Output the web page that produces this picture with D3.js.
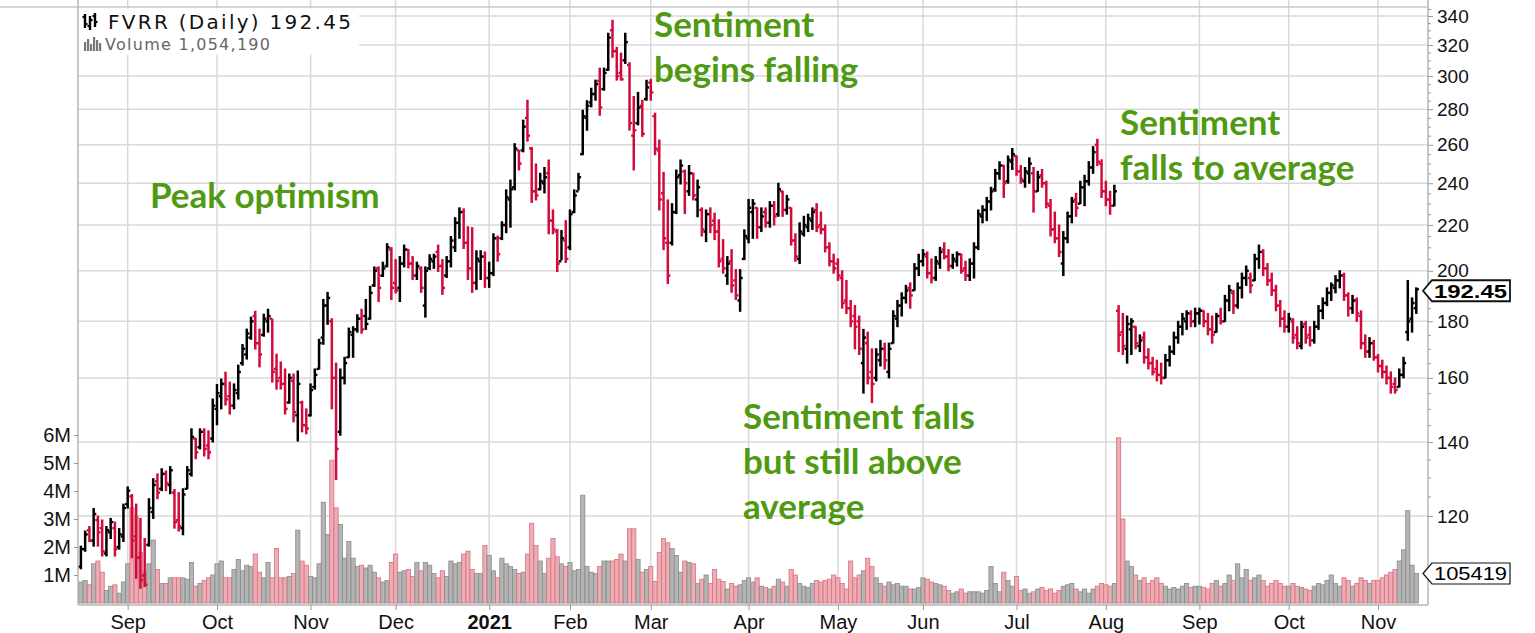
<!DOCTYPE html>
<html><head><meta charset="utf-8">
<script src="https://cdn.jsdelivr.net/npm/d3@7"></script>
<style>body{margin:0;background:#fff}svg{display:block}</style>
</head><body>
<svg id="c" width="1535" height="633"></svg>
<script>
// ---------- DATA (FVRR daily, Aug 17 2020 – Nov 12 2021) ----------
const symbol = "FVRR";
const lastClose = "192.45";
const lastVolume = "1,054,190";
const volumeBoxLabel = "105419";
const holidays = ["2020-09-07","2020-11-26","2020-12-25","2021-01-01","2021-01-18","2021-02-15","2021-04-02","2021-05-31","2021-07-05","2021-09-06"];
const opens = [
108,112,116.5,114,119,117,111,116,117,112.5,115,
123,125,115,110,106,113,121,129,127,131,128,126,119,117,127,131,141,138.5,143,139,141,
150,154,158,154,151,155,165,168,174,182,172,175,180,181,163,160,158,152,159,148,152,145,
148,157,163,174,186,180,160,143,160,167,175,177,181,182,181,194,201,198,202,209,
195,193,203,209,203,198,201,186,201,204,208,202,198,204,210,221,226,212,201,195,204,206,
197,199,214,214,220,232,238,257,257,275,258,236,237,240,245,222,217,204,213,
210,226,236,255,275,284,289,297,292,304,330,316,302,310,307,265,272,282,286,
296,276,257,235,212,212,226,244,246,236,245,232,227,217,225,222,217,205,198,204,196,188,205,
214,226,228,219,226,221,229,225,236,227,228,213,205,216,219,222,227,220,218,210,204,
203,197,188,185,182,180,165,172,162,160,166,170,162,172,181,186,189,193,192,201,
204,206,199,197,203,209,206,202,204,207,201,198,203,210,224,227,231,237,245,249,241,251,
254,246,241,245,245,236,244,240,229,218,214,203,214,224,232,230,238,241,248,260,250,
236,232,229,184,176,170,177,178,171,174,167,165,163,161,160,166,169,174,178,180,183,180,
183,184,180,177,176,182,180,188,191,186,193,197,197,196,205,208,201,196,192,186,181,
178,180,175,171,179,175,173,178,184,187,191,193,196,198,190,185,188,182,172,169,172,
167,164,162,160,158,157,161,176,181,185];
const highs = [
112.7,116.3,117.4,121.9,120,119,117.4,119.4,118.5,116.9,123,
127.5,125.5,123,119.4,114.5,124.4,129.7,131,132.4,131.8,133,126.8,126,127,133,143.9,141,143.9,143.9,143.3,153.1,
157.8,159.6,161.9,158.6,158,164.3,171.5,177.1,181.6,183.8,177.1,182.7,184.6,180.8,168.1,165.4,163,161.3,161.3,162.3,152.4,150,
158,163,173.4,188.4,191.2,181,165,163,167,177.5,178,182.5,184.6,188.4,193.6,201.6,201.6,203.6,211.6,209.9,
204.7,206,211,209,206,203.6,201.6,201.6,206.8,207,211,204.7,206,214.8,223.4,228,227.5,219.2,218.8,208.5,208.5,208,
203.6,216,215,221.5,236.7,241.6,260.6,257,273.7,285.3,258.6,249.8,245,248,251.9,227,218,217.5,222,
227,236.7,245,279.4,285,292.5,297.5,305,305,328,337,318.5,314.7,328,308.5,287.5,290,285.3,297.4,
298,277.7,262.6,245.5,231.8,230,246.7,251.9,246.7,249,245,241.6,228,227,228,225.5,222.4,213.4,206,209,200.5,200.5,217.8,
232,232,228,228,228,231,231,240,236,234,228,216,221,224,225,228,230,226,220,212,207,
205,200,196,188,186,182,177,176,170,170,173,172,172,184,188,191,194,195,203,207,
209,208,205,206,210,212,209,207,208,207,204,205,212,227,229,233,238,247,251,249,254,258,
254,249,248,253,248,246,247,241,232,226,220,217,226,233,235,241,244,251,259,263,252,
241,236,239,186,183,182,181,178,175,176,170,167,166,165,168,171,176,180,183,184,184,185,
185,184,183,182,183,185,190,194,192,195,199,202,199,207,211,209,203,199,194,188,184,
183,181,178,180,180,178,180,186,189,193,195,198,200,199,191,190,189,184,175,174,173,
168,166,164,162,160,163,167,196,189,193];
const lows = [
107.5,111.5,113.8,112.7,112.7,110.4,110.4,114.5,110.4,112,113.8,
122,110,105.4,103.2,103.6,112.7,119.4,124.4,126.5,126.5,125.7,117,116.3,115.4,127,130.4,135.2,138,136,135.2,140,
145.1,150,151.2,148.4,150,153.1,164.3,166.4,173.4,169.9,163.7,174.5,176,158.6,156.3,156.3,148.4,151.8,146,140.3,143,142.4,
147.8,156.3,163,171.6,178.9,150,129.5,142,158,167,167,176,175.6,177,180.8,193.6,187.6,197.6,201.6,188.4,
191,187.6,201.6,201.2,196.4,196.4,191.2,181.6,200.5,201,199.7,190.4,197.2,201.6,208.2,214,209.5,196.4,191.2,192.4,196.4,193.2,
193.2,198,204,213.4,216.5,219,236.7,246.7,256.2,262,230.6,231.8,236.7,235.2,216,216,199.7,204.7,203.5,
209,225.7,236.7,254.7,268,281.4,285.3,276.5,291.3,303.6,312,297.5,297.5,308,268.1,246.7,271,264.6,285.3,
285.3,254.7,227,209,194.8,211,225.3,239.6,225.3,234,231.8,223.8,215,212.5,216.5,213.4,201.6,199,194.4,191.2,188.4,183.8,204.7,
212,214,214,217,219,219,220,224,224,225,211,204,203,215,217,218,217,216,208,202,199,
196,185,183,178,170,168,155,158,152,159,164,163,160,172,178,182,187,185,192,198,
202,197,195,196,201,205,200,201,202,199,196,196,197,209,221,222,227,236,242,233,240,247,
244,240,238,240,226,236,238,228,215,212,206,198,212,221,224,230,229,239,245,249,233,
229,225,229,169,168,165,168,170,169,165,163,161,159,158,160,164,168,172,175,177,178,178,
179,178,175,172,176,179,180,184,183,185,189,194,191,196,201,198,194,190,184,178,176,
176,172,170,170,172,171,172,177,181,186,188,191,193,188,182,183,180,170,167,167,166,
162,160,158,155,155,157,160,173,176,183];
const closes = [
112,115.5,114,120.5,116,111.5,116.5,118.5,112,115.5,122,
126.5,114,110,105,104,122,128,126,131,128.5,132,118.5,117.5,125.5,132,141.5,137,143,138,137,151,
155,158,153,151,156,162,170,175.5,180,172,168,181,182,162,159,158,150,160,149,158,145,144,
156,161,172,186,189,160,138,160,165,176,177,181,177,179,191,200,193,201,210,193,
192,203,209,203,198,202,193,200,205,206,202,193,204,213,221,226,212,201,195,205,206,197,
199,214,207,220,233,237,258,250,270,265,236,234,241,243,222,218,203,214,205,
225,234,243,276,282,289,295,281,302,325,316,300,298,322,272,268,281,266,293,
290,258,232,214,198,226,243,249,240,245,234,238,218,225,220,217,204,201,203,194,190,197,215,
228,230,219,224,221,229,224,237,227,232,213,206,217,220,223,226,219,218,210,204,201,
198,187,185,180,178,170,174,160,158,168,170,166,170,182,186,189,192,190,201,204,
207,199,197,204,208,206,202,205,207,200,198,203,210,225,227,231,236,245,249,240,252,255,
246,242,246,250,236,243,240,230,218,214,208,214,224,231,228,238,241,248,256,251,236,
232,229,236,175,171,179,180,172,173,167,165,162,161,160,166,169,174,178,181,183,180,183,
184,180,177,175,182,180,188,192,186,193,197,200,194,205,208,201,196,192,186,181,178,
181,174,172,178,174,173,178,184,187,191,194,196,198,190,185,188,183,172,169,172,167,
164,162,160,157,156,161,165,180,187,192.45];
const volumes = [ // millions of shares
0.75,0.8,0.65,1.4,1.5,1.1,0.45,0.6,0.65,0.35,0.75,
1.4,3.4,3.1,1.8,1.1,1.4,2.25,1.2,0.7,0.7,0.9,0.9,0.9,0.9,0.85,1.45,0.6,0.7,0.8,0.9,1.0,
1.4,1.5,0.9,0.9,1.2,1.55,1.15,1.35,1.3,1.75,1.1,0.9,1.45,0.9,1.95,0.9,0.9,0.95,1.05,2.6,1.5,1.35,
0.95,0.9,1.4,3.6,2.45,5.1,3.4,2.8,1.6,2.2,1.6,1.3,1.35,1.25,1.35,1.1,0.9,0.75,0.8,1.45,
1.75,1.1,1.15,1.2,0.95,1.45,1.15,1.45,1.35,1.05,0.9,1.15,0.95,1.5,1.4,1.45,1.75,1.85,1.2,1.05,1.05,2.05,
1.7,1.15,0.9,1.6,1.4,1.3,1.2,1.05,1.1,1.75,2.85,2.05,1.5,1.05,1.6,2.3,1.65,1.4,1.3,
1.45,1.15,1.2,3.85,1.3,1.1,1.05,1.3,1.5,1.5,1.5,1.55,1.75,1.5,2.65,2.65,1.55,1.1,1.2,
1.3,0.77,1.8,2.3,2.15,1.95,1.7,1.1,1.5,1.45,1.4,0.7,0.85,1.0,0.7,1.2,0.85,0.77,0.5,0.7,0.6,0.65,0.8,
0.9,0.75,0.9,0.6,0.55,0.5,0.6,0.85,0.75,0.6,1.2,1.0,0.7,0.6,0.55,0.7,0.8,0.75,0.8,0.85,1.0,
0.9,0.7,0.5,1.5,0.9,1.0,1.15,1.6,1.3,0.9,0.7,0.6,0.75,0.65,0.7,0.6,0.6,0.5,0.5,0.55,
0.9,0.85,0.75,0.7,0.65,0.6,0.45,0.35,0.4,0.5,0.35,0.4,0.4,0.4,0.35,0.45,1.3,0.7,0.4,1.1,0.8,0.6,
0.95,0.45,0.5,0.35,0.4,0.5,0.55,0.45,0.5,0.35,0.45,0.6,0.65,0.7,0.5,0.4,0.5,0.35,0.5,0.6,0.7,
0.65,0.6,0.7,5.9,3.0,1.5,1.3,1.0,0.8,0.9,0.7,0.8,0.9,0.7,0.6,0.5,0.55,0.5,0.6,0.7,0.55,0.6,
0.6,0.55,0.5,0.7,0.8,0.6,0.7,1.0,0.8,1.4,0.9,1.2,0.8,0.9,1.0,0.8,0.6,0.7,0.8,0.7,0.6,
0.6,0.7,0.6,0.55,0.5,0.45,0.6,0.7,0.65,0.8,1.0,0.7,0.6,0.9,0.8,0.6,0.7,0.9,0.8,0.7,0.8,
0.8,0.9,1.0,1.1,1.2,1.5,1.9,3.3,1.35,1.054];
const priceTicks = [120,140,160,180,200,220,240,260,280,300,320,340];
const volumeTicks = [1,2,3,4,5,6];
const monthNames = ["Jan","Feb","Mar","Apr","May","Jun","Jul","Aug","Sep","Oct","Nov","Dec"];
const annotationLines = [
  ["Peak optimism"],
  ["Sentiment","begins falling"],
  ["Sentiment falls","but still above","average"],
  ["Sentiment","falls to average"]];

// ---------- LAYOUT ----------
const annotationPos = [[150,208],[654,37],[743,429],[1120,135]];
const LINE_H = 45;
const GREEN = "#4f9a12";
const UP = "#000000", DOWN = "#d10c3c";
const FONT = "'Liberation Sans', Arial, sans-serif";

function buildDates(){
  const hol = new Set(holidays), out = [];
  let t = Date.UTC(2020,7,17); const end = Date.UTC(2021,10,12);
  while (t <= end){
    const d = new Date(t), wd = d.getUTCDay(), s = d.toISOString().slice(0,10);
    if (wd !== 0 && wd !== 6 && !hol.has(s)) out.push(s);
    t += 86400000;
  }
  return out;
}
const N = closes.length;
const dates = buildDates();
const idx = d3.range(N);
const isUp = i => i === 0 ? true : closes[i] >= closes[i-1];

const svg = d3.select("#c");
svg.append("rect").attr("width",1535).attr("height",633).attr("fill","#fff");

const x = d3.scalePoint().domain(idx).range([80.9, 1416.3]);
const y = d3.scaleLog().domain([120,340]).range([516,16]);
const yv = d3.scaleLinear().domain([0,6]).range([603,435]);

const monthStarts = idx.filter(i => i > 0 && dates[i].slice(5,7) !== dates[i-1].slice(5,7));

// grid
const grid = svg.append("g").attr("stroke","#d9d9d9").attr("stroke-width",1.5);
grid.selectAll("line.h").data(priceTicks).join("line").attr("class","h")
  .attr("x1",78).attr("x2",1428).attr("y1",d=>y(d)).attr("y2",d=>y(d));
grid.selectAll("line.v").data(monthStarts).join("line").attr("class","v")
  .attr("x1",d=>x(d)).attr("x2",d=>x(d)).attr("y1",0).attr("y2",605);
svg.append("line").attr("x1",0).attr("x2",1428).attr("y1",7).attr("y2",7).attr("stroke","#c8c8c8").attr("stroke-width",1.5);

// title box
svg.append("rect").attr("x",79).attr("y",8.5).attr("width",280).attr("height",46).attr("fill","#fff");

// volume bars
svg.append("g").selectAll("rect").data(idx).join("rect")
  .attr("x",i=>x(i)-2.1).attr("width",4.2)
  .attr("y",i=>yv(volumes[i])).attr("height",i=>yv(0)-yv(volumes[i]))
  .attr("fill",i=>isUp(i)?"#b4b4b4":"#eeacb4")
  .attr("stroke",i=>isUp(i)?"#8a8a8a":"#d5727f").attr("stroke-width",0.8);

// OHLC bars
const pg = svg.append("g");
pg.selectAll("line.hl").data(idx).join("line").attr("class","hl")
  .attr("x1",i=>x(i)).attr("x2",i=>x(i)).attr("y1",i=>y(highs[i])-0.5).attr("y2",i=>y(lows[i])+0.5)
  .attr("stroke",i=>isUp(i)?UP:DOWN).attr("stroke-width",2.5);
pg.selectAll("line.o").data(idx).join("line").attr("class","o")
  .attr("x1",i=>x(i)-2.6).attr("x2",i=>x(i)).attr("y1",i=>y(opens[i])).attr("y2",i=>y(opens[i]))
  .attr("stroke",i=>isUp(i)?UP:DOWN).attr("stroke-width",2.4);
pg.selectAll("line.c").data(idx).join("line").attr("class","c")
  .attr("x1",i=>x(i)).attr("x2",i=>x(i)+2.6).attr("y1",i=>y(closes[i])).attr("y2",i=>y(closes[i]))
  .attr("stroke",i=>isUp(i)?UP:DOWN).attr("stroke-width",2.4);

// frame lines
svg.append("line").attr("x1",78).attr("x2",78).attr("y1",0).attr("y2",605).attr("stroke","#b4b4b4").attr("stroke-width",1.5);
svg.append("line").attr("x1",1428).attr("x2",1428).attr("y1",0).attr("y2",605).attr("stroke","#b4b4b4").attr("stroke-width",1.5);
svg.append("line").attr("x1",78).attr("x2",1428).attr("y1",605).attr("y2",605).attr("stroke","#b4b4b4").attr("stroke-width",1.5);

// right price axis
const minor = d3.range(120,346,5).filter(v=>!priceTicks.includes(v));
const ram = svg.append("g").attr("transform","translate(1428,0)")
  .call(d3.axisRight(y).tickValues(minor).tickFormat("").tickSize(3));
const ra = svg.append("g").attr("transform","translate(1428,0)")
  .call(d3.axisRight(y).tickValues(priceTicks).tickFormat(d3.format("d")).tickSize(5).tickPadding(4));
[ram,ra].forEach(a=>{a.select(".domain").remove(); a.selectAll("line").attr("stroke","#999");});
ra.selectAll("text").attr("font-family",FONT).attr("font-size",19).attr("fill","#111");

// left volume axis
const la = svg.append("g").attr("transform","translate(78,0)")
  .call(d3.axisLeft(yv).tickValues(volumeTicks).tickFormat(d=>d+"M").tickSize(4).tickPadding(3));
la.select(".domain").remove();
la.selectAll("line").attr("stroke","#999");
la.selectAll("text").attr("font-family",FONT).attr("font-size",20).attr("fill","#111");

// bottom month axis
const ba = svg.append("g").attr("transform","translate(0,605)")
  .call(d3.axisBottom(x).tickValues(monthStarts).tickSize(5).tickPadding(5)
    .tickFormat(i=>{const m=+dates[i].slice(5,7)-1; return m===0?dates[i].slice(0,4):monthNames[m];}));
ba.select(".domain").remove();
ba.selectAll("line").attr("stroke","#999");
ba.selectAll("text").attr("font-family",FONT).attr("font-size",20).attr("fill","#111")
  .attr("font-weight",i=>dates[i].slice(5,7)==="01"?"bold":"normal");

// title
const tg = svg.append("g");
[[85,14,28,17,24],[90,16,30,26,20],[95,13,27,16,22]].forEach(([gx,t,b,o,c])=>{
  tg.append("line").attr("x1",gx).attr("x2",gx).attr("y1",t).attr("y2",b).attr("stroke","#000").attr("stroke-width",2.4);
  tg.append("line").attr("x1",gx-2.5).attr("x2",gx).attr("y1",o).attr("y2",o).attr("stroke","#000").attr("stroke-width",2.2);
  tg.append("line").attr("x1",gx).attr("x2",gx+2.5).attr("y1",c).attr("y2",c).attr("stroke","#000").attr("stroke-width",2.2);
});
tg.append("text").attr("x",108).attr("y",29).attr("font-family","'DejaVu Sans', Verdana, sans-serif")
  .attr("font-size",20).attr("fill","#111").attr("textLength",243).attr("lengthAdjust","spacing")
  .text(`${symbol} (Daily) ${lastClose}`);
[[84,42],[87,39],[90,44],[93,37],[96,40],[99,43]].forEach(([bx,by])=>{
  tg.append("rect").attr("x",bx).attr("y",by).attr("width",2.2).attr("height",51-by).attr("fill","#777");
});
tg.append("text").attr("x",105).attr("y",50).attr("font-family","'DejaVu Sans', Verdana, sans-serif")
  .attr("font-size",16).attr("fill","#666").attr("textLength",165).attr("lengthAdjust","spacing")
  .text(`Volume ${lastVolume}`);

// value boxes on right axis
function valueBox(cy, label, bold){
  const g = svg.append("g");
  g.append("path").attr("d",`M1423,${cy} L1432,${cy-10.5} L1510,${cy-10.5} L1510,${cy+10.5} L1432,${cy+10.5} Z`)
    .attr("fill","#fff").attr("stroke","#111").attr("stroke-width",bold?1.8:1.2);
  g.append("text").attr("x",1434).attr("y",cy).attr("dy","0.36em").attr("font-family",FONT)
    .attr("font-size",19).attr("font-weight",bold?"bold":"normal").attr("fill","#000")
    .attr("textLength",73).attr("lengthAdjust","spacingAndGlyphs").text(label);
}
valueBox(y(closes[N-1]) + 1.5, lastClose, true);
valueBox(yv(volumes[N-1]), volumeBoxLabel, false);

// annotations
const ag = svg.append("g").attr("font-family","Lato, 'Open Sans', sans-serif").attr("font-weight","bold")
  .attr("font-size",35).attr("fill",GREEN);
annotationLines.forEach((lines,k)=>{
  lines.forEach((t,j)=>{
    ag.append("text").attr("x",annotationPos[k][0]).attr("y",annotationPos[k][1]+j*LINE_H).text(t);
  });
});
</script>
</body></html>
